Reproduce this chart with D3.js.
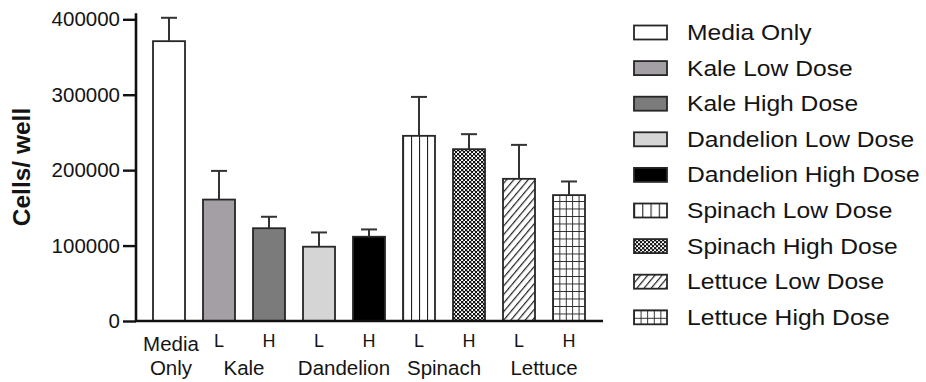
<!DOCTYPE html>
<html>
<head>
  <title>Cells per well</title>
  <script src="https://cdn.jsdelivr.net/npm/d3@7"></script>
  <style>
    body { margin: 0; background: #fff; }
    text { font-family: "Liberation Sans", Arial, sans-serif; fill: #141414; }
  </style>
</head>
<body>
  <svg width="926" height="382"></svg>
<script>

// data
const categories = ['Media Only', 'Kale Low Dose', 'Kale High Dose', 'Dandelion Low Dose',
  'Dandelion High Dose', 'Spinach Low Dose', 'Spinach High Dose', 'Lettuce Low Dose', 'Lettuce High Dose'];
const means = [371000, 161000, 123000, 98500, 111700, 245500, 227800, 188500, 166900];
const sems = [31000, 38000, 15200, 18900, 9700, 51600, 19900, 45000, 18100];
const doseLabels = ['', 'L', 'H', 'L', 'H', 'L', 'H', 'L', 'H'];
const groupLabels = ['Kale', 'Dandelion', 'Spinach', 'Lettuce'];
const groupStart = [1, 3, 5, 7];
const yTicks = [0, 100000, 200000, 300000, 400000];
const fills = ['#ffffff', '#a49fa4', '#7b7b7b', '#d5d5d5', '#000000', 'vlines', 'checker', 'diag', 'grid'];

let svg = d3.select('svg');
let defs = svg.append('defs');

let x = d3.scaleBand().domain(categories).range([144, 594]).paddingInner(0.36).paddingOuter(0.18);
let y = d3.scaleLinear().domain([0, 400000]).range([321, 19.3]);

// patterns, anchored on the box they fill
let makePattern = (id, kind, x0, y0, w) => {
  let p = defs.append('pattern').attr('id', id).attr('patternUnits', 'userSpaceOnUse');
  if (kind === 'vlines') {
    let s = w / 4;
    p.attr('x', x0).attr('y', 0).attr('width', s).attr('height', 10);
    p.append('rect').attr('width', s).attr('height', 10).attr('fill', '#fff');
    p.append('line').attr('x1', 0).attr('x2', 0).attr('y1', 0).attr('y2', 10)
      .attr('stroke', '#222').attr('stroke-width', 2.2);
  } else if (kind === 'checker') {
    p.attr('x', x0).attr('y', y0).attr('width', 4).attr('height', 4);
    p.append('rect').attr('width', 4).attr('height', 4).attr('fill', '#fff');
    p.append('rect').attr('width', 2.3).attr('height', 2.3).attr('fill', '#111');
    p.append('rect').attr('x', 2).attr('y', 2).attr('width', 2.3).attr('height', 2.3).attr('fill', '#111');
  } else if (kind === 'diag') {
    p.attr('x', x0).attr('y', y0).attr('width', 5.5).attr('height', 10)
      .attr('patternTransform', 'rotate(40)');
    p.append('rect').attr('width', 5.5).attr('height', 10).attr('fill', '#fff');
    p.append('line').attr('x1', 0).attr('x2', 0).attr('y1', 0).attr('y2', 10)
      .attr('stroke', '#222').attr('stroke-width', 2.4);
  } else if (kind === 'grid') {
    let s = w / 5;
    let h = w > 20 ? 7.5 : 7;
    p.attr('x', x0).attr('y', y0).attr('width', s).attr('height', h);
    p.append('rect').attr('width', s).attr('height', h).attr('fill', '#fff');
    p.append('line').attr('x1', 0).attr('x2', 0).attr('y1', 0).attr('y2', h)
      .attr('stroke', '#222').attr('stroke-width', 1.8);
    p.append('line').attr('x1', 0).attr('x2', s).attr('y1', 0).attr('y2', 0)
      .attr('stroke', '#222').attr('stroke-width', 1.8);
  }
  return 'url(#' + id + ')';
}

let fillFor = (i, id, x0, y0, w) => {
  let f = fills[i];
  return f.startsWith('#') ? f : makePattern(id, f, x0, y0, w);
}

// bars
categories.forEach((c, i) => {
  let bx = x(c);
  let g = svg.append('g');
  g.append('rect')
    .attr('x', bx)
    .attr('y', y(means[i]))
    .attr('width', x.bandwidth())
    .attr('height', y(0) - y(means[i]))
    .attr('fill', fillFor(i, 'bar' + i, bx, y(0), x.bandwidth()))
    .attr('stroke', '#262626')
    .attr('stroke-width', 1.8);

  // error bar, upper half only
  let cx = bx + x.bandwidth() / 2;
  g.append('line').attr('x1', cx).attr('x2', cx)
    .attr('y1', y(means[i])).attr('y2', y(means[i] + sems[i]))
    .attr('stroke', '#333').attr('stroke-width', 2);
  g.append('line').attr('x1', cx - 8).attr('x2', cx + 8)
    .attr('y1', y(means[i] + sems[i])).attr('y2', y(means[i] + sems[i]))
    .attr('stroke', '#333').attr('stroke-width', 2);
});

// y axis
let yAxis = svg.append('g')
  .attr('transform', 'translate(136,0)')
  .call(d3.axisLeft(y).tickValues(yTicks).tickFormat(d3.format('d')).tickSize(13).tickPadding(3));
yAxis.select('.domain').remove();
yAxis.append('line').attr('x1', 0).attr('x2', 0).attr('y1', y(400000) - 6).attr('y2', y(0) + 1)
  .attr('stroke', '#111').attr('stroke-width', 2.6);
yAxis.selectAll('.tick line').attr('stroke', '#111').attr('stroke-width', 2.4);
yAxis.selectAll('.tick text').style('font-size', '20.5px').attr('fill', '#141414')
  .style('font-family', '"Liberation Sans", Arial, sans-serif');

// x axis line
svg.append('line').attr('x1', 135).attr('x2', 603).attr('y1', y(0)).attr('y2', y(0))
  .attr('stroke', '#111').attr('stroke-width', 2.6);

// dose labels
svg.append('g').selectAll('text').data(categories).join('text')
  .attr('x', d => x(d) + x.bandwidth() / 2)
  .attr('y', 347)
  .attr('text-anchor', 'middle')
  .style('font-size', '18px')
  .text((d, i) => doseLabels[i]);

// media only label
let mx = x(categories[0]) + x.bandwidth() / 2 + 2;
svg.append('text').attr('x', mx).attr('y', 351).attr('text-anchor', 'middle')
  .style('font-size', '20.5px').text('Media');
svg.append('text').attr('x', mx).attr('y', 375).attr('text-anchor', 'middle')
  .style('font-size', '20.5px').text('Only');

// group labels
svg.append('g').selectAll('text').data(groupLabels).join('text')
  .attr('x', (d, i) => (x(categories[groupStart[i]]) + x(categories[groupStart[i] + 1]) + x.bandwidth()) / 2)
  .attr('y', 375)
  .attr('text-anchor', 'middle')
  .style('font-size', '20.5px')
  .text(d => d);

// y label
svg.append('text')
  .attr('transform', 'translate(30,167) rotate(-90)')
  .attr('text-anchor', 'middle')
  .style('font-size', '24.5px')
  .style('font-weight', 'bold')
  .text('Cells/ well');

// legend
let legend = svg.append('g');
categories.forEach((c, i) => {
  let ly = 32.5 + i * 35.6;
  legend.append('rect')
    .attr('x', 634).attr('y', ly - 7).attr('width', 33).attr('height', 14)
    .attr('fill', fillFor(i, 'leg' + i, 634, ly - 7, 33))
    .attr('stroke', '#262626').attr('stroke-width', 1.8);
  legend.append('text')
    .attr('transform', 'translate(687,' + (ly + 7.5) + ') scale(1.12,1)')
    .style('font-size', '22px')
    .text(c);
});

</script>
</body>
</html>
